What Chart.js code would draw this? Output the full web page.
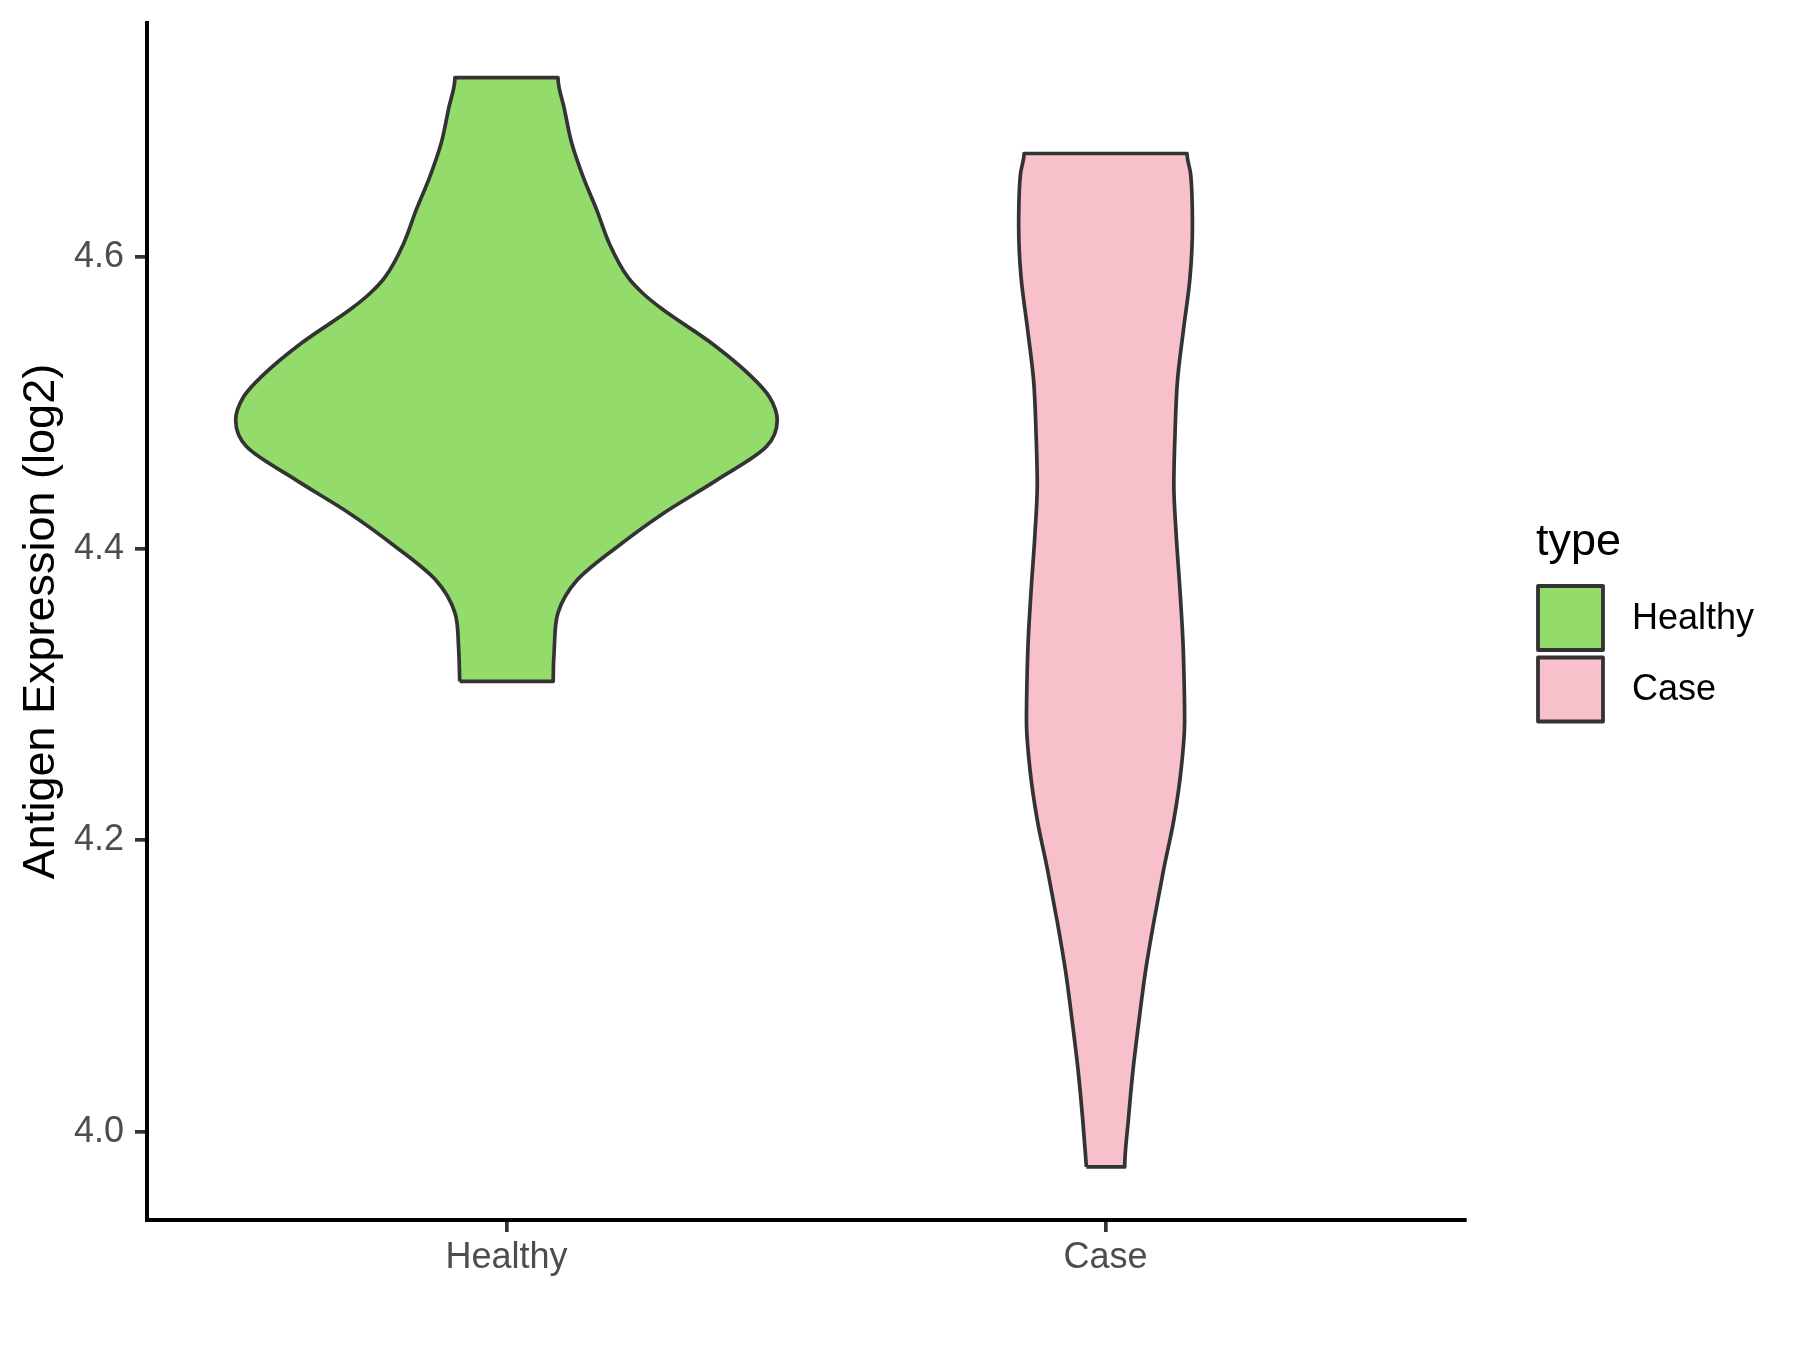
<!DOCTYPE html>
<html>
<head>
<meta charset="utf-8">
<title>Antigen Expression violin</title>
<script src="https://cdn.jsdelivr.net/npm/chart.js@4.4.1/dist/chart.umd.min.js"></script>
<style>
  body { margin: 0; background: #ffffff; }
  canvas { display: block; }
</style>
</head>
<body>
<canvas id="violin" width="1800" height="1350" style="width:1800px;height:1350px"></canvas>
<script>
// categorias y colores
const categorias = ['Healthy', 'Case'];
const rellenos = ['#93DB6A', '#F7C0CB'];
const yTicks = [4.0, 4.2, 4.4, 4.6];

// contorno de cada violin: valor (log2) y medio ancho (unidades del eje x)
const healthyY    = [4.309, 4.333, 4.356, 4.378, 4.401, 4.424, 4.447, 4.470, 4.488, 4.504, 4.518, 4.541, 4.564, 4.575, 4.586, 4.609, 4.632, 4.655, 4.678, 4.701, 4.723];
const healthyHalf = [0.078, 0.080, 0.086, 0.117, 0.184, 0.261, 0.351, 0.434, 0.452, 0.439, 0.409, 0.342, 0.261, 0.228, 0.203, 0.172, 0.151, 0.128, 0.109, 0.097, 0.086];

const caseY    = [3.976, 4.008, 4.043, 4.077, 4.111, 4.145, 4.180, 4.214, 4.248, 4.282, 4.312, 4.338, 4.373, 4.409, 4.444, 4.479, 4.515, 4.550, 4.586, 4.621, 4.657, 4.671];
const caseHalf = [0.032, 0.038, 0.046, 0.056, 0.067, 0.081, 0.097, 0.114, 0.126, 0.132, 0.131, 0.129, 0.124, 0.118, 0.114, 0.116, 0.120, 0.130, 0.141, 0.145, 0.142, 0.136];

Chart.defaults.font.family = "'Liberation Sans', Arial, Helvetica, sans-serif";

// puntos del contorno cerrado: abajo, sube por la derecha, baja por la izquierda
function contorno(centro, ys, medio) {
  const pts = [{ x: centro - medio[0], y: ys[0] }];
  for (let i = 0; i < ys.length; i++) pts.push({ x: centro + medio[i], y: ys[i] });
  for (let i = ys.length - 1; i >= 0; i--) pts.push({ x: centro - medio[i], y: ys[i] });
  return pts;
}

const violines = [
  { y: healthyY, half: healthyHalf },
  { y: caseY, half: caseHalf }
];

const datasets = violines.map((v, i) => ({
  label: categorias[i],
  data: contorno(i + 1, v.y, v.half),
  backgroundColor: rellenos[i],
  borderColor: '#333333',
  borderWidth: 3.7,
  borderJoinStyle: 'round',
  fill: 'shape',
  pointRadius: 0,
  cubicInterpolationMode: 'monotone'
}));

// leyenda estilo ggplot
const leyenda = {
  id: 'leyenda',
  afterDraw(chart) {
    const c = chart.ctx;
    c.save();
    c.fillStyle = '#000000';
    c.textAlign = 'left';
    c.textBaseline = 'alphabetic';
    c.font = "45px 'Liberation Sans', Arial, sans-serif";
    c.fillText('type', 1536, 555);
    c.font = "36px 'Liberation Sans', Arial, sans-serif";
    c.textBaseline = 'middle';
    categorias.forEach((cat, i) => {
      const y0 = 586 + i * 71.5;
      c.fillStyle = rellenos[i];
      c.fillRect(1538, y0, 65, 64);
      c.strokeStyle = '#333333';
      c.lineWidth = 3.8;
      c.lineJoin = 'round';
      c.strokeRect(1538, y0, 65, 64);
      c.fillStyle = '#000000';
      c.fillText(cat, 1632, y0 + 33);
    });
    c.restore();
  }
};

new Chart(document.getElementById('violin'), {
  type: 'line',
  data: { datasets },
  plugins: [leyenda],
  options: {
    indexAxis: 'y',
    responsive: false,
    devicePixelRatio: 1,
    animation: false,
    events: [],
    layout: { padding: { left: 0, top: 23, right: 335, bottom: 0 } },
    plugins: { legend: { display: false }, tooltip: { enabled: false } },
    scales: {
      x: {
        type: 'linear',
        position: 'bottom',
        min: 0.4,
        max: 2.6,
        afterFit: s => { s.height = 130; s.paddingLeft = 0; s.paddingRight = 0; },
        afterBuildTicks: s => { s.ticks = categorias.map((c, i) => ({ value: i + 1 })); },
        ticks: {
          callback: v => categorias[Math.round(v) - 1],
          color: '#4D4D4D',
          font: { size: 36 },
          padding: 4,
          maxRotation: 0,
          autoSkip: false
        },
        grid: { drawOnChartArea: false, drawTicks: true, tickLength: 12, tickColor: '#333333', lineWidth: 3.7 },
        border: { display: true, color: '#000000', width: 4 }
      },
      y: {
        type: 'linear',
        position: 'left',
        min: 3.9396,
        max: 4.7605,
        afterFit: s => { s.width = 147; s.paddingTop = 0; s.paddingBottom = 0; },
        afterBuildTicks: s => { s.ticks = yTicks.map(v => ({ value: v })); },
        ticks: {
          callback: v => Number(v).toFixed(1),
          color: '#4D4D4D',
          font: { size: 36 },
          padding: 11
        },
        grid: { drawOnChartArea: false, drawTicks: true, tickLength: 12, tickColor: '#333333', lineWidth: 3.7 },
        border: { display: true, color: '#000000', width: 4 },
        title: {
          display: true,
          text: 'Antigen Expression (log2)',
          color: '#000000',
          font: { size: 45 },
          padding: { top: 15, bottom: 0 }
        }
      }
    }
  }
});
</script>
</body>
</html>
